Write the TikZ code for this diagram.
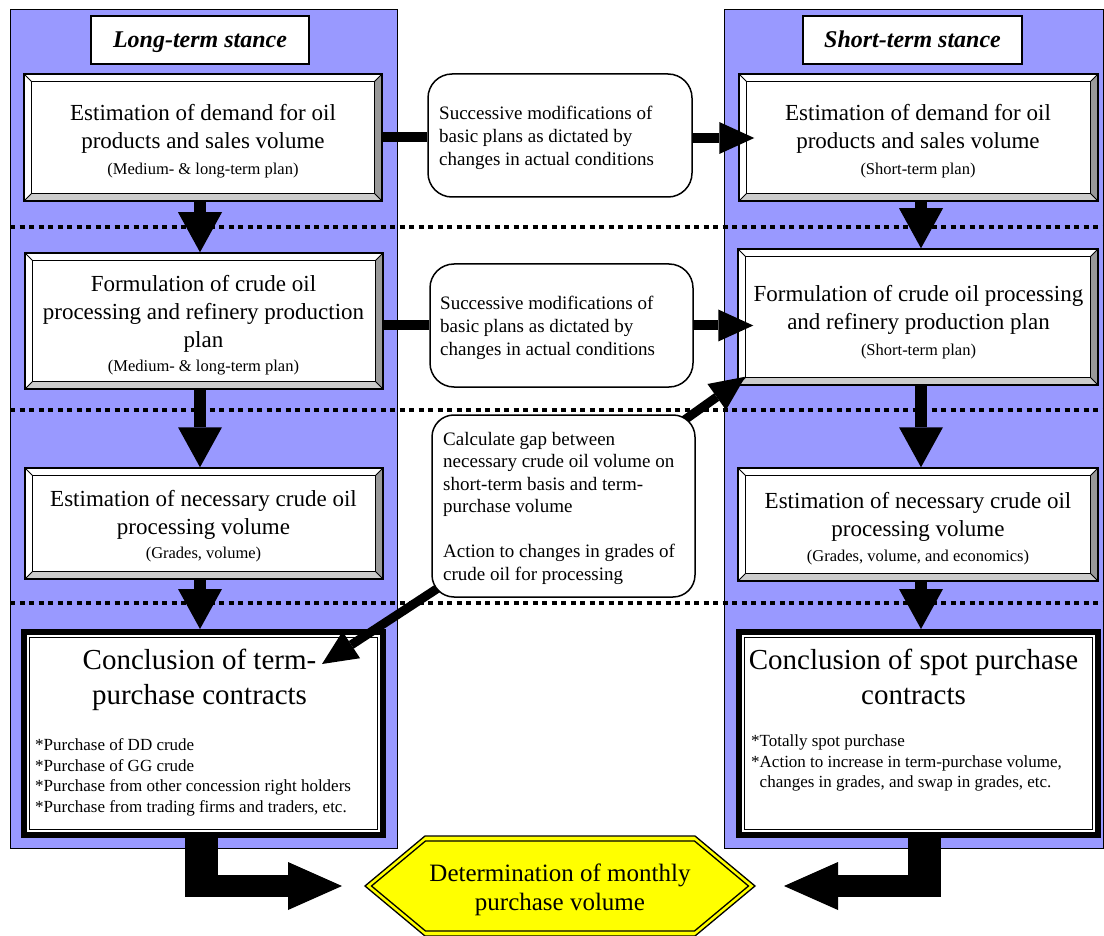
\documentclass[tikz,border=0pt]{standalone}
\usepackage{fontspec}
\setmainfont{Liberation Serif}
\usetikzlibrary{arrows.meta}

\definecolor{panelblue}{HTML}{9999FF}
\definecolor{bevdark}{HTML}{999999}
\definecolor{bevlight}{HTML}{CCCCCC}
\definecolor{hexyellow}{HTML}{FFFF00}

\newcommand\planfont{\fontsize{16.5}{19}\selectfont}

\tikzset{
  panel/.style={fill=panelblue, draw=black, line width=1pt},
  sepline/.style={line width=4.5pt, dash pattern=on 5pt off 4.5pt},
  titlebox/.style={draw=black, line width=1.5pt, fill=white, inner sep=0pt,
    text height=16pt, text depth=0pt,
    font=\fontsize{24}{28}\selectfont\bfseries\itshape},
  bevelbox/.style={draw=black, line width=1.5pt, fill=white, inner sep=0pt,
    path picture={
      \coordinate (bNW) at (path picture bounding box.north west);
      \coordinate (bNE) at (path picture bounding box.north east);
      \coordinate (bSW) at (path picture bounding box.south west);
      \coordinate (bSE) at (path picture bounding box.south east);
      \coordinate (iNW) at ([shift={(7.5,7.5)}]bNW);
      \coordinate (iNE) at ([shift={(-7.5,7.5)}]bNE);
      \coordinate (iSW) at ([shift={(7.5,-7.5)}]bSW);
      \coordinate (iSE) at ([shift={(-7.5,-7.5)}]bSE);
      \fill[bevdark] (bNE) -- (bSE) -- (iSE) -- (iNE) -- cycle;
      \fill[bevlight] (bSW) -- (bSE) -- (iSE) -- (iSW) -- cycle;
      \draw[line width=1pt] (iNW) rectangle (iSE);
      \draw[line width=0.8pt] (bNW) -- (iNW) (bNE) -- (iNE) (bSW) -- (iSW) (bSE) -- (iSE);
    }},
  conclbox/.style={draw=black, line width=6pt, fill=white, inner sep=0pt,
    path picture={
      \draw[line width=1.3pt]
        ([shift={(5.5,5.5)}]path picture bounding box.north west) rectangle
        ([shift={(-5.5,-5.5)}]path picture bounding box.south east);
    }},
  midbox/.style={draw=black, line width=1.5pt, fill=white, rounded corners=24pt},
  maintext/.style={inner sep=0pt, anchor=north, align=center,
    font=\fontsize{23}{28}\selectfont},
  midtext/.style={inner sep=0pt, anchor=north west, align=left,
    font=\fontsize{19}{23}\selectfont},
  concltitle/.style={inner sep=0pt, anchor=north, align=center,
    font=\fontsize{29}{35}\selectfont},
  bullets/.style={inner sep=0pt, anchor=north west, align=left,
    font=\fontsize{17}{20.7}\selectfont},
  hexshape/.style={fill=hexyellow, draw=black, line width=1.3pt, line join=miter},
  hexline/.style={draw=black, line width=1.3pt, line join=miter},
  hexlabel/.style={inner sep=0pt, anchor=north, align=center,
    font=\fontsize{25}{29}\selectfont},
  hline/.style={line width=10pt},
  harrow/.style={line width=10pt, -{Triangle[length=35pt,width=32pt,line width=0pt]}},
  varrow/.style={line width=12pt, -{Triangle[length=40pt,width=44pt,line width=0pt]}},
  darrow/.style={line width=9pt, -{Triangle[length=35pt,width=32pt,line width=0pt]}},
  fatshaft/.style={line width=33pt},
  fatarrow/.style={line width=22pt, -{Triangle[length=54pt,width=48pt,line width=0pt]}},
}

\begin{document}
\begin{tikzpicture}[x=1pt, y=-1pt]
  \useasboundingbox (0,0) rectangle (1104,936);

  % the two stance panels
  \draw[panel] (10,10) rectangle (397,848);
  \draw[panel] (724,10) rectangle (1103.5,848);

  % dotted separators between the planning stages
  \draw[sepline] (10,227) -- (1104,227);
  \draw[sepline] (10,410) -- (1104,410);
  \draw[sepline] (10,603) -- (1104,603);

  % panel headings
  \node[titlebox, minimum width=218pt, minimum height=48pt] (lt) at (200,40) {Long-term stance};
  \node[titlebox, minimum width=219pt, minimum height=48pt] (rt) at (912.5,40) {Short-term stance};

  % long-term column
  \node[bevelbox, minimum width=358pt, minimum height=127pt] (lb1) at (203,137.5) {};
  \node[bevelbox, minimum width=358pt, minimum height=136pt] (lb2) at (204,321) {};
  \node[bevelbox, minimum width=358pt, minimum height=111pt] (lb3) at (204,523.5) {};
  \node[conclbox, minimum width=359pt, minimum height=203pt] (lb4) at (203.5,733.5) {};

  % short-term column
  \node[bevelbox, minimum width=359pt, minimum height=127pt] (rb1) at (918.5,137.5) {};
  \node[bevelbox, minimum width=360pt, minimum height=136pt] (rb2) at (918,317) {};
  \node[bevelbox, minimum width=360pt, minimum height=113pt] (rb3) at (918,524.5) {};
  \node[conclbox, minimum width=359pt, minimum height=203pt] (rb4) at (918.5,733.5) {};

  % box texts
  \node[maintext] (lb1t) at (203,104.3) {Estimation of demand for oil\\products and sales volume\\[-2pt]{\planfont (Medium- \& long-term plan)}};
  \node[maintext] (lb2t) at (203.5,275.3) {Formulation of crude oil\\processing and refinery production\\plan\\[-4pt]{\planfont (Medium- \& long-term plan)}};
  \node[maintext] (lb3t) at (203.5,490.5) {Estimation of necessary crude oil\\processing volume\\[-4pt]{\planfont (Grades, volume)}};
  \node[maintext] (rb1t) at (918,104.5) {Estimation of demand for oil\\products and sales volume\\[-2pt]{\planfont (Short-term plan)}};
  \node[maintext] (rb2t) at (918.5,285.3) {Formulation of crude oil processing\\and refinery production plan\\[-2pt]{\planfont (Short-term plan)}};
  \node[maintext] (rb3t) at (918,492.3) {Estimation of necessary crude oil\\processing volume\\[-3pt]{\planfont (Grades, volume, and economics)}};

  \node[concltitle] (lb4t) at (199.5,649) {Conclusion of term-\\purchase contracts};
  \node[bullets] (lb4b) at (35,738.4) {*Purchase of DD crude\\*Purchase of GG crude\\*Purchase from other concession right holders\\*Purchase from trading firms and traders, etc.};
  \node[concltitle] (rb4t) at (913.5,649) {Conclusion of spot purchase\\contracts};
  \node[bullets] (rb4b) at (751,734.4) {*Totally spot purchase\\*Action to increase in term-purchase volume,\\\hphantom{*}changes in grades, and swap in grades, etc.};

  % vertical flow in each column
  \coordinate (vxL) at (200,0);
  \coordinate (vxR) at (921,0);
  \draw[varrow] (lb1.south -| vxL) -- (lb2.north -| vxL);
  \draw[varrow] (lb2.south -| vxL) -- (lb3.north -| vxL);
  \draw[varrow] (lb3.south -| vxL) -- (lb4.north -| vxL);
  \draw[varrow] (rb1.south -| vxR) -- (rb2.north -| vxR);
  \draw[varrow] (rb2.south -| vxR) -- (rb3.north -| vxR);
  \draw[varrow] (rb3.south -| vxR) -- (rb4.north -| vxR);

  % gap calculation links
  \coordinate (d1tip) at ([shift={(8,-9)}]rb2.south west);
  \coordinate (d2tip) at (322,664);

  % middle notes
  \node[midbox, minimum width=264pt, minimum height=123pt] (m1) at (560,135.5) {};
  \node[midbox, minimum width=263pt, minimum height=123pt] (m2) at (561.5,325.5) {};
  \draw[hline] (lb1.east) -- (lb1.east -| m1.west);
  \draw[harrow, shorten >=-16pt] (m1.east |- 0,138) -- (rb1.west |- 0,138);
  \draw[hline] (lb2.east |- m2.west) -- (m2.west);
  \draw[harrow, shorten >=-16pt] (m2.east) -- (m2.east -| rb2.west);

  \coordinate (m3c) at (563.5,506);
  \draw[darrow] (m3c) -- (d1tip);
  \draw[darrow] (m3c) -- (d2tip);
  \node[midbox, rounded corners=22pt, minimum width=263pt, minimum height=182pt] (m3) at (m3c) {};

  \node[midtext] (m1t) at (439,106) {Successive modifications of\\basic plans as dictated by\\changes in actual conditions};
  \node[midtext] (m2t) at (440,296) {Successive modifications of\\basic plans as dictated by\\changes in actual conditions};
  \node[midtext, font=\fontsize{19}{22.5}\selectfont] (m3t) at (443,432) {Calculate gap between\\necessary crude oil volume on\\short-term basis and term-\\purchase volume\\[22.5pt]Action to changes in grades of\\crude oil for processing};

  % final decision
  \coordinate (hexL) at (365,886);
  \coordinate (hexR) at (755,886);
  \fill[hexshape] (hexL) -- (425,836) -- (695,836) -- (hexR) -- (695,936) -- (425,936) -- cycle;
  \draw[hexline] (371.5,886) -- (425.5,841) -- (694.5,841) -- (748.5,886) -- (694.5,931) -- (425.5,931) -- cycle;
  \node[hexlabel] (hex) at (560,864) {Determination of monthly\\purchase volume};

  % contracts feed the monthly volume
  \coordinate (lbend) at (185,886);
  \coordinate (rbend) at (940,886);
  \draw[fatshaft] ([xshift=-2pt]lb4.south) -- ++(0,59);
  \draw[fatarrow, shorten >=23pt] (lbend) -- (hexL);
  \draw[fatshaft] ([xshift=5.5pt]rb4.south) -- ++(0,59);
  \draw[fatarrow, shorten >=29pt] (rbend) -- (hexR);
\end{tikzpicture}
\end{document}
